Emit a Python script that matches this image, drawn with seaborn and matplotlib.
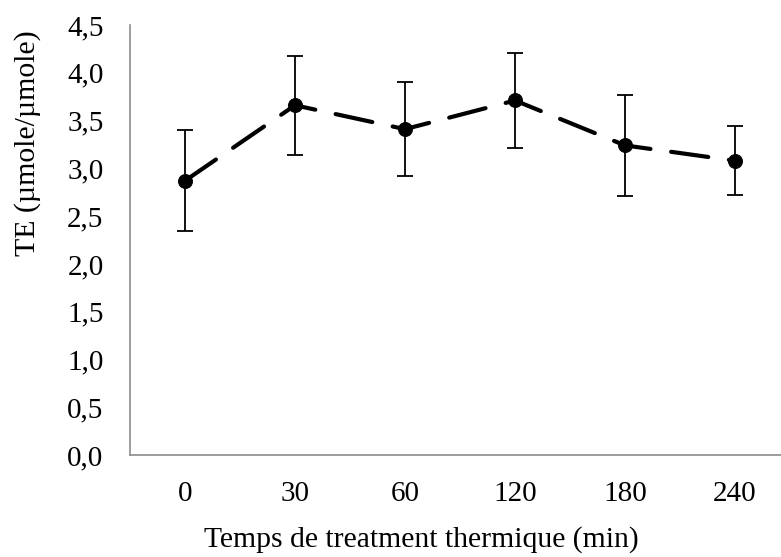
import matplotlib
matplotlib.use("Agg")
import matplotlib.pyplot as plt
import seaborn as sns
import numpy as np
import pandas as pd

categories = ["0", "30", "60", "120", "180", "240"]
te_mean = [2.87, 3.66, 3.41, 3.71, 3.24, 3.08]
te_err = [0.53, 0.52, 0.49, 0.50, 0.53, 0.36]
y_ticks = [0.0, 0.5, 1.0, 1.5, 2.0, 2.5, 3.0, 3.5, 4.0, 4.5]

sns.set_theme(style="white")
plt.rcParams["font.family"] = ["Liberation Serif", "DejaVu Serif"]

W, H = 781, 557
fig = plt.figure(figsize=(W / 100, H / 100), dpi=100)
left, right, top, bottom = 130, 781, 25, 455
ax = fig.add_axes([left / W, 1 - bottom / H, (right - left) / W, (bottom - top) / H])

pos = np.arange(len(categories))
df = pd.DataFrame({"pos": pos, "te": te_mean})

ax.errorbar(pos, te_mean, yerr=te_err, fmt="none", ecolor="black",
            elinewidth=1.3, capsize=6, capthick=1.3, zorder=2)
sns.lineplot(data=df, x="pos", y="te", ax=ax, color="black", lw=3,
             marker="o", markersize=10, markeredgecolor="black",
             markerfacecolor="black", zorder=3)
line = ax.lines[-1]
line.set_linestyle((0, (9, 5)))
line.set_dash_capstyle("round")

ax.set_xlim(-0.5, 5.5 - 9 / 110)
ax.set_ylim(0, 4.5)
ax.set_xticks(pos)
ax.set_xticklabels(categories)
ax.set_yticks(y_ticks)
ax.set_yticklabels([f"{v:.1f}".replace(".", ",") for v in y_ticks])
ax.tick_params(axis="both", length=0, labelsize=21, colors="black")
ax.tick_params(axis="y", pad=19)
ax.tick_params(axis="x", pad=19)
ax.set_xlabel("")
ax.set_ylabel("")

for s in ["top", "right"]:
    ax.spines[s].set_visible(False)
for s in ["left", "bottom"]:
    ax.spines[s].set_color("#8c8c8c")
    ax.spines[s].set_linewidth(1.2)

fig.text(421 / W, 1 - 540 / H, "Temps de treatment thermique (min)",
         ha="center", va="center", fontsize=21.3, color="black")
fig.text(28 / W, 1 - 143 / H, "TE (µmole/µmole)", rotation=90,
         ha="center", va="center", fontsize=21.5, color="black")

fig.savefig("out.png", dpi=100, facecolor="white")
